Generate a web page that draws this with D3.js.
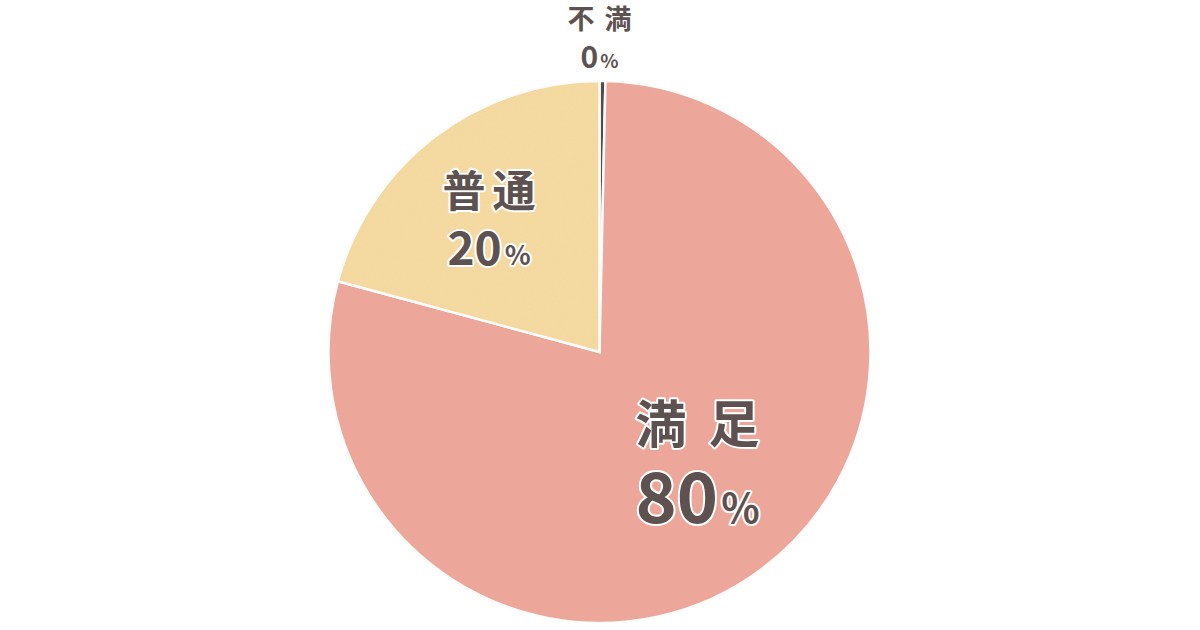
<!DOCTYPE html>
<html><head><meta charset="utf-8">
<script src="https://cdn.jsdelivr.net/npm/d3@7"></script>
<style>
html,body{margin:0;padding:0;background:#fff;}
svg{display:block;}
text{font-family:"Noto Sans CJK JP","Noto Sans",sans-serif;font-weight:700;}
</style></head>
<body>
<svg id="chart" width="1200" height="630"></svg>
<script>
// Data (drawing order clockwise from 12 o'clock)
const categories = ["不満", "満足", "普通"];
const values = [0.35, 78.85, 20.8];
const valueLabels = ["0", "80", "20"];
const colors = ["#5a4b4b", "#efa99b", "#f6dca3"];

const W = 1200, H = 630;
const cx = 599.5, cy = 352, R = 271;
const svg = d3.select("#chart");

const defs = svg.append("defs");
const f = defs.append("filter").attr("id","paper").attr("x","0").attr("y","0").attr("width","1").attr("height","1");
f.append("feTurbulence").attr("type","fractalNoise").attr("baseFrequency","0.9").attr("numOctaves","2").attr("seed","3").attr("result","n");
f.append("feColorMatrix").attr("in","n").attr("type","matrix")
  .attr("values","0 0 0 0 0  0 0 0 0 0  0 0 0 0 0  0 0 0 0.045 0").attr("result","na");
f.append("feComposite").attr("in","na").attr("in2","SourceGraphic").attr("operator","in").attr("result","nc");
f.append("feMerge").selectAll("feMergeNode").data(["SourceGraphic","nc"]).join("feMergeNode").attr("in",d=>d);

const data = categories.map((c,i)=>({cat:c, value:values[i], label:valueLabels[i], color:colors[i]}));
const pie = d3.pie().sort(null).value(d=>d.value);
const arcs = pie(data);
const arc = d3.arc().innerRadius(0).outerRadius(R);

const g = svg.append("g").attr("transform",`translate(${cx},${cy})`);
g.append("g").attr("filter","url(#paper)")
  .selectAll("path").data(arcs).join("path")
  .attr("d", arc)
  .attr("fill", d=>d.data.color)
  .attr("stroke", "#fff")
  .attr("stroke-width", 2.5)
  .attr("stroke-linejoin","miter");

const textColor = "#5e5250";
// label settings per slice: radius fraction, sizes
const labelCfg = {
  "満足": {r:0.555, off:[8,-7], nameSize:51, ls:22, numSize:70, pctSize:40, gap:80},
  "普通": {r:0.64, off:[-5,9], nameSize:43, ls:7, numSize:46, pctSize:27, gap:58}
};

arcs.forEach(a=>{
  const cfg = labelCfg[a.data.cat];
  if(cfg){
    const la = d3.arc().innerRadius(R*cfg.r).outerRadius(R*cfg.r);
    const [x,y] = la.centroid(a);
    const tg = g.append("g").attr("transform",`translate(${x+cfg.off[0]},${y+cfg.off[1]})`);
    const common = s => s.attr("text-anchor","middle").attr("fill",textColor)
      .attr("stroke","#fff").attr("stroke-width",4).attr("paint-order","stroke").attr("stroke-linejoin","round");
    tg.append("text").call(common)
      .attr("x", cfg.ls/2).attr("y", -cfg.gap*0.28)
      .attr("font-size", cfg.nameSize).attr("letter-spacing", cfg.ls)
      .text(a.data.cat);
    const t2 = tg.append("text").call(common).attr("x",0).attr("y", cfg.gap*0.72);
    t2.append("tspan").attr("font-size",cfg.numSize).text(a.data.label);
    t2.append("tspan").attr("font-size",cfg.pctSize).attr("dx",3).text("%");
  } else {
    // tiny slice: label outside above the pie
    const ang = (a.startAngle + a.endAngle)/2;
    const x = Math.sin(ang)*R - 3;
    const tg = g.append("g").attr("transform",`translate(${x},${-R})`);
    tg.append("text").attr("text-anchor","middle").attr("fill",textColor)
      .attr("x",5).attr("y",-52).attr("font-size",27).attr("letter-spacing",10).text(a.data.cat);
    const t2 = tg.append("text").attr("text-anchor","middle").attr("fill",textColor).attr("x",0).attr("y",-13);
    t2.append("tspan").attr("font-size",30).text(a.data.label);
    t2.append("tspan").attr("font-size",19).attr("dx",2).text("%");
  }
});
</script>
</body></html>
